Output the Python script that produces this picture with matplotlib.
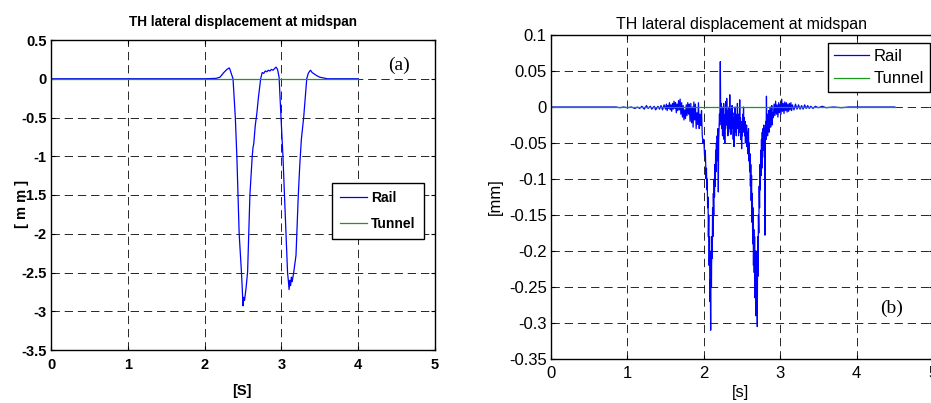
import matplotlib
matplotlib.use("Agg")
import matplotlib.pyplot as plt
import numpy as np

plt.rcParams['lines.scale_dashes'] = False

# ---------------- data: panel (a) ----------------
a_rail_t = [0.0, 1.0, 2.0, 2.15, 2.20, 2.25, 2.29, 2.32, 2.33, 2.35, 2.37, 2.40, 2.42, 2.45,
            2.48, 2.49, 2.50, 2.51, 2.52, 2.54, 2.56, 2.59, 2.62, 2.63, 2.64, 2.66, 2.68,
            2.70, 2.73, 2.75, 2.77, 2.79, 2.81, 2.83, 2.85, 2.87, 2.89, 2.91, 2.93, 2.95,
            2.97, 2.99, 3.02, 3.04, 3.06, 3.08, 3.09, 3.10, 3.11, 3.12, 3.13, 3.14, 3.16,
            3.19, 3.22, 3.24, 3.26, 3.29, 3.31, 3.33, 3.35, 3.37, 3.38, 3.40, 3.43, 3.46,
            3.50, 3.55, 3.60, 4.0]
a_rail_v = [0.0, 0.0, 0.0, 0.005, 0.02, 0.08, 0.12, 0.14, 0.12, 0.06, 0.0, -0.5, -1.0, -2.0,
            -2.5, -2.7, -2.93, -2.82, -2.86, -2.7, -2.49, -1.5, -1.0, -0.89, -0.84, -0.6, -0.45,
            -0.25, 0.0, 0.08, 0.07, 0.10, 0.09, 0.11, 0.10, 0.12, 0.11, 0.13, 0.15, 0.12,
            0.02, -0.4, -1.0, -1.5, -2.0, -2.5, -2.6, -2.72, -2.6, -2.67, -2.56, -2.62, -2.5,
            -2.28, -1.5, -1.1, -0.78, -0.5, -0.25, 0.0, 0.07, 0.10, 0.11, 0.08, 0.06, 0.04,
            0.02, 0.01, 0.0, 0.0]
a_tunnel_t = [0.0, 4.0]
a_tunnel_v = [0.0, 0.0]

# ---------------- data: panel (b) ----------------
b_rail_t = [
    0.00, 0.85, 0.90, 0.95, 1.00, 1.05, 1.10, 1.13, 1.16, 1.19, 1.22, 1.25, 1.27, 1.30, 1.32,
    1.35, 1.37, 1.40, 1.42, 1.44, 1.46, 1.48,
    1.50, 1.51, 1.52, 1.53, 1.54, 1.55, 1.56, 1.57, 1.58, 1.59, 1.60, 1.61, 1.62, 1.63, 1.64,
    1.65, 1.66, 1.67, 1.68, 1.69, 1.70, 1.71, 1.72, 1.73, 1.74, 1.75, 1.76, 1.77, 1.78, 1.79,
    1.80, 1.81, 1.82,
    1.83, 1.84, 1.85, 1.86, 1.87, 1.88, 1.89, 1.90, 1.91, 1.92, 1.93, 1.94, 1.95, 1.96, 1.97, 1.98,
    1.99, 2.00, 2.01, 2.02, 2.03, 2.035, 2.04, 2.045, 2.05, 2.055, 2.06, 2.065, 2.07, 2.075,
    2.08, 2.085, 2.09, 2.095, 2.10, 2.105, 2.11, 2.115, 2.12, 2.125, 2.13, 2.135, 2.14, 2.145,
    2.15, 2.155, 2.16, 2.165, 2.17, 2.175, 2.18, 2.185, 2.19, 2.195, 2.20, 2.205, 2.21, 2.216,
    2.222, 2.228,
    2.235, 2.24, 2.245, 2.25, 2.255, 2.26, 2.265, 2.27, 2.275, 2.28, 2.285, 2.29, 2.295, 2.30,
    2.305, 2.31, 2.315, 2.32, 2.325, 2.33, 2.335, 2.34, 2.345, 2.35, 2.355, 2.36, 2.365, 2.37,
    2.375, 2.38, 2.385, 2.39, 2.395, 2.40, 2.405, 2.41, 2.415, 2.42, 2.425, 2.43, 2.435, 2.44,
    2.445, 2.45, 2.455, 2.46, 2.465, 2.47, 2.475, 2.48, 2.485, 2.49, 2.495, 2.50, 2.505, 2.51,
    2.515, 2.52, 2.525, 2.53, 2.535, 2.54, 2.545, 2.55, 2.555, 2.56, 2.565, 2.57, 2.575, 2.58,
    2.585, 2.59, 2.595, 2.60, 2.605, 2.61, 2.615, 2.62, 2.625, 2.63, 2.635, 2.64, 2.645, 2.65,
    2.655, 2.66, 2.665, 2.67, 2.675, 2.68, 2.685, 2.69, 2.695, 2.70, 2.705, 2.71, 2.715, 2.72,
    2.725, 2.73, 2.735, 2.74, 2.745, 2.75, 2.755, 2.76, 2.765, 2.77, 2.775, 2.78, 2.785, 2.79,
    2.795, 2.80, 2.805, 2.81, 2.815, 2.82, 2.825, 2.83, 2.835, 2.84, 2.845, 2.85, 2.855, 2.86,
    2.865, 2.87, 2.875, 2.88, 2.885, 2.89, 2.895, 2.90,
    2.91, 2.92, 2.93, 2.94, 2.95, 2.96, 2.97, 2.98, 2.99, 3.00, 3.01, 3.02, 3.03, 3.04, 3.05,
    3.06, 3.07, 3.08, 3.09, 3.10, 3.11, 3.12, 3.13, 3.14, 3.15, 3.16, 3.18, 3.20, 3.22, 3.24,
    3.26, 3.28, 3.30, 3.32, 3.34, 3.36, 3.38, 3.40, 3.43, 3.46, 3.50, 3.55, 3.60, 3.70, 3.80,
    3.90, 4.50]
b_rail_v = [
    0.000, 0.000, -0.001, 0.000, -0.001, 0.000, -0.002, 0.000, -0.002, 0.001, -0.003, 0.002,
    -0.002, 0.001, -0.003, 0.001, -0.004, 0.001, -0.003, 0.002, -0.004, 0.003,
    -0.003, 0.004, -0.005, 0.002, -0.002, 0.006, -0.004, 0.003, -0.006, 0.005, -0.003, 0.008,
    -0.002, 0.006, -0.008, 0.004, -0.005, 0.009, -0.004, 0.011, -0.010, 0.006, -0.014, 0.002,
    -0.018, -0.004, -0.016, 0.003, -0.012, 0.006, -0.010, 0.004, -0.020,
    0.005, -0.022, 0.000, -0.028, 0.007, -0.018, 0.004, -0.030, -0.008, -0.024, 0.006, -0.030,
    -0.010, -0.026, -0.005, -0.040,
    -0.050, -0.045, -0.068, -0.060, -0.100, -0.085, -0.115, -0.100, -0.140, -0.125, -0.180,
    -0.150, -0.220, -0.180, -0.270, -0.240, -0.310, -0.200, -0.250, -0.180, -0.210, -0.140,
    -0.180, -0.120, -0.150, -0.100, -0.125, -0.080, -0.110, -0.060, -0.090, -0.050, -0.075,
    -0.040, -0.070, -0.030, -0.118, -0.045, -0.030, -0.010, -0.025, 0.063, -0.020, 0.005,
    -0.030, 0.000, -0.040, -0.010, -0.035, 0.005, -0.045, -0.015, -0.050, -0.010, -0.030,
    0.008, -0.025, 0.012, -0.020, -0.005, -0.040, -0.015, -0.035, 0.000, -0.030, 0.017, -0.020,
    -0.005, -0.038, -0.012, -0.030, 0.002, -0.028, -0.008, -0.045, -0.020, -0.055, -0.015,
    -0.035, 0.000, -0.025, -0.010, -0.040, -0.015, -0.030, 0.005, -0.025, -0.010, -0.040,
    -0.020, -0.035, 0.010, -0.030, -0.015, -0.045, -0.020, -0.058, -0.025, -0.040, -0.010,
    -0.030, 0.000, -0.035, -0.015, -0.040, -0.020, -0.050, -0.030, -0.045, -0.025, -0.055,
    -0.035, -0.065, -0.045,
    -0.030, -0.075, -0.050, -0.090, -0.065, -0.110, -0.080, -0.130, -0.095, -0.160, -0.120,
    -0.190, -0.140, -0.220, -0.170, -0.230, -0.180, -0.265, -0.200, -0.290, -0.210, -0.270,
    -0.200, -0.305, -0.180, -0.235, -0.150, -0.175, -0.110, -0.140, -0.080, -0.115, -0.060,
    -0.095, -0.045, -0.085, -0.035, -0.070, -0.030, -0.060, -0.025, -0.050, -0.030, -0.178,
    -0.040, -0.020, -0.045, 0.015, -0.030, -0.010, -0.040, -0.015, -0.030, -0.005, -0.035,
    -0.010, -0.025, 0.000, -0.028, -0.005, -0.020, 0.002, -0.025, -0.008,
    -0.015, 0.004, -0.012, 0.008, -0.010, 0.003, -0.014, 0.006, -0.008, 0.004, -0.010, 0.011,
    -0.006, 0.005, -0.009, 0.007, -0.005, 0.006, -0.007, 0.004, -0.006, 0.005, -0.004, 0.006,
    -0.005, 0.003, -0.004, 0.004, -0.003, 0.003, -0.003, 0.002, -0.003, 0.003, -0.002, 0.002,
    -0.002, 0.001, -0.002, 0.001, -0.001, 0.001, -0.001, 0.000, -0.001, 0.000, 0.000]
b_tunnel_t = [0.0, 4.5]
b_tunnel_v = [0.0, 0.0]

a_xticks = [0, 1, 2, 3, 4, 5]
a_yticks = [-3.5, -3, -2.5, -2, -1.5, -1, -0.5, 0, 0.5]
b_xticks = [0, 1, 2, 3, 4, 5]
b_yticks = [-0.35, -0.3, -0.25, -0.2, -0.15, -0.1, -0.05, 0, 0.05, 0.1]

title_text = "TH lateral displacement at midspan"
series_names = ["Rail", "Tunnel"]

# ---------------- styling ----------------
BLUE = (0, 0, 1)
GREEN = (0.1, 0.6, 0.1)
bold = dict(family=['Liberation Sans', 'DejaVu Sans'], weight='bold')
regular = dict(family=['Liberation Sans', 'DejaVu Sans'])
serif = dict(family=['Liberation Serif', 'DejaVu Serif'])

fig = plt.figure(figsize=(9.31, 4.03), dpi=100)
fig.patch.set_facecolor('white')

axA = fig.add_axes([51/931, 1-350/403, 384/931, 310/403])
axB = fig.add_axes([551/931, 1-359/403, 382/931, 324/403])

def style_axes(ax, xt, yt, fontprops, size, xpad):
    ax.set_xticks(xt)
    ax.set_yticks(yt)
    ax.set_xticklabels(['%g' % v for v in xt], fontsize=size, **fontprops)
    ax.set_yticklabels(['%g' % v for v in yt], fontsize=size, **fontprops)
    ax.tick_params(direction='in', length=3, width=0.8, top=True, right=True)
    ax.tick_params(axis='x', pad=xpad)
    ax.tick_params(axis='y', pad=3)
    ax.grid(True, color='k', linestyle=(0, (6, 3.5)), linewidth=0.7, alpha=0.85)
    for s in ax.spines.values():
        s.set_linewidth(1.0)
        s.set_color('k')

# panel (a)
axA.plot(a_rail_t, a_rail_v, color=BLUE, lw=0.9, label=series_names[0])
axA.plot(a_tunnel_t, a_tunnel_v, color=GREEN, lw=0.9, label=series_names[1])
axA.set_xlim(0, 5)
axA.set_ylim(-3.5, 0.5)
style_axes(axA, a_xticks, a_yticks, bold, 10.5, 6)
axA.set_title(title_text, fontsize=9.8, pad=10, **bold)
axA.set_xlabel("[S]", fontsize=10.5, **bold)
axA.xaxis.set_label_coords(0.497, -0.11)
axA.set_ylabel("[ m m ]", fontsize=10.5, **bold)
axA.yaxis.set_label_coords(-0.058, 0.47)
axA.text(4.53, 0.167, "(a)", fontsize=14, ha='center', va='center', **serif)
legA = axA.legend(loc='upper right', bbox_to_anchor=(0.971, 0.5387),
                  prop=dict(size=10, weight='bold', family=['Liberation Sans', 'DejaVu Sans']),
                  frameon=True, fancybox=False, edgecolor='k', framealpha=1,
                  handlelength=1.9, borderpad=0.6, labelspacing=0.85, handletextpad=0.3,
                  borderaxespad=0)
legA.get_frame().set_linewidth(1.0)

# panel (b)
axB.plot(b_rail_t, b_rail_v, color=BLUE, lw=0.9, label=series_names[0])
axB.plot(b_tunnel_t, b_tunnel_v, color=GREEN, lw=0.9, label=series_names[1])
axB.set_xlim(0, 5)
axB.set_ylim(-0.35, 0.1)
style_axes(axB, b_xticks, b_yticks, regular, 12, 5)
axB.set_title(title_text, fontsize=11.5, pad=4, **regular)
axB.set_xlabel("[s]", fontsize=12, **regular)
axB.xaxis.set_label_coords(0.495, -0.08)
axB.set_ylabel("[mm]", fontsize=12, **regular)
axB.yaxis.set_label_coords(-0.125, 0.5)
axB.text(4.46, -0.279, "(b)", fontsize=14, ha='center', va='center', **serif)
legB = axB.legend(loc='upper right', bbox_to_anchor=(0.992, 0.975),
                  prop=dict(size=12, family=['Liberation Sans', 'DejaVu Sans']),
                  frameon=True, fancybox=False, edgecolor='k', framealpha=1,
                  handlelength=2.1, borderpad=0.35, labelspacing=0.45, handletextpad=0.3,
                  borderaxespad=0)
legB.get_frame().set_linewidth(1.0)

fig.savefig("out.png", dpi=100)
